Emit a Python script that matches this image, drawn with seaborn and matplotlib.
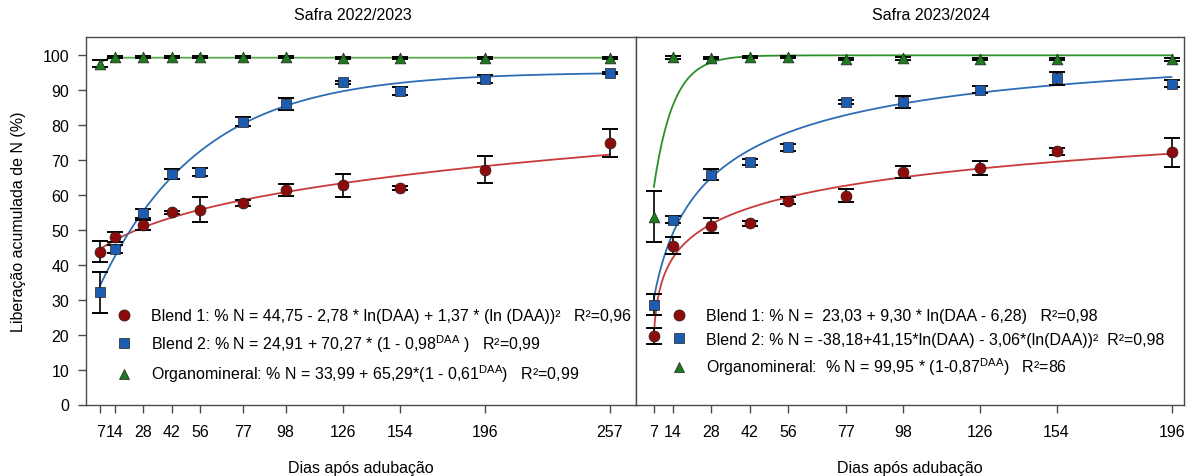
import numpy as np
import pandas as pd
import matplotlib
matplotlib.use("Agg")
import matplotlib.pyplot as plt
from matplotlib.lines import Line2D
import seaborn as sns

# ---------------- data ----------------
days_2223 = [7, 14, 28, 42, 56, 77, 98, 126, 154, 196, 257]
blend1_2223 = [43.7, 47.9, 51.4, 55.0, 55.8, 57.6, 61.4, 62.8, 62.0, 67.2, 74.8]
blend1_2223_err = [3.0, 1.4, 1.5, 0.5, 3.5, 0.9, 1.7, 3.3, 0.6, 3.8, 4.0]
blend2_2223 = [32.1, 44.5, 54.7, 66.0, 66.5, 81.0, 86.0, 92.2, 89.7, 93.2, 94.9]
blend2_2223_err = [5.9, 1.2, 1.3, 1.5, 1.1, 1.3, 1.6, 0.4, 1.2, 1.2, 0.3]
organo_2223 = [97.5, 99.4, 99.4, 99.4, 99.4, 99.4, 99.4, 99.3, 99.3, 99.3, 99.2]
organo_2223_err = [1.0, 0.3, 0.3, 0.3, 0.3, 0.3, 0.3, 0.3, 0.3, 0.3, 0.3]

days_2324 = [7, 14, 28, 42, 56, 77, 98, 126, 154, 196]
blend1_2324 = [19.6, 45.5, 51.2, 51.9, 58.3, 59.8, 66.5, 67.6, 72.5, 72.2]
blend1_2324_err = [2.2, 2.4, 2.1, 0.7, 1.0, 1.9, 1.8, 2.0, 1.0, 4.2]
blend2_2324 = [28.5, 52.9, 65.8, 69.5, 73.6, 86.7, 86.7, 90.1, 93.4, 91.8]
blend2_2324_err = [3.0, 1.0, 1.5, 0.8, 0.9, 0.6, 1.7, 1.0, 1.8, 1.0]
organo_2324 = [53.8, 99.4, 99.2, 99.5, 99.5, 98.9, 99.1, 98.9, 98.9, 98.8]
organo_2324_err = [7.2, 0.4, 0.4, 0.4, 0.4, 0.4, 0.4, 0.4, 0.4, 0.4]

# fitted model coefficients (as given in the legends)
fit_b1_2223 = [44.75, -2.78, 1.37]        # a + b*ln(x) + c*ln(x)^2
fit_b2_2223 = [24.91, 70.27, 0.98]        # a + b*(1 - c^x)
fit_or_2223 = [33.99, 65.29, 0.61]        # a + b*(1 - c^x)
fit_b1_2324 = [23.03, 9.30, 6.28]         # a + b*ln(x - c)
fit_b2_2324 = [-38.18, 41.15, -3.06]      # a + b*ln(x) + c*ln(x)^2
fit_or_2324 = [99.95, 0.87]               # a*(1 - c^x)

labels_2223 = [
    "Blend 1: % N = 44,75 - 2,78 * ln(DAA) + 1,37 * (ln (DAA))²   R²=0,96",
    r"Blend 2: % N = 24,91 + 70,27 * (1 - 0,98$^{\mathregular{DAA}}$ )   R²=0,99",
    r"Organomineral: % N = 33,99 + 65,29*(1 - 0,61$^{\mathregular{DAA}}$)   R²=0,99",
]
labels_2324 = [
    "Blend 1: % N =  23,03 + 9,30 * ln(DAA - 6,28)   R²=0,98",
    "Blend 2: % N = -38,18+41,15*ln(DAA) - 3,06*(ln(DAA))²  R²=0,98",
    r"Organomineral:  % N = 99,95 * (1-0,87$^{\mathregular{DAA}}$)   R²=86",
]
titles = ["Safra 2022/2023", "Safra 2023/2024"]
xlabel = "Dias após adubação"
ylabel = "Liberação acumulada de N (%)"

# ---------------- style ----------------
sns.set_theme(style="white")
plt.rcParams["font.family"] = ["Liberation Sans", "DejaVu Sans"]
plt.rcParams["mathtext.fontset"] = "custom"
plt.rcParams["mathtext.rm"] = "Liberation Sans"
plt.rcParams["mathtext.it"] = "Liberation Sans:italic"
plt.rcParams["mathtext.bf"] = "Liberation Sans:bold"
plt.rcParams["text.color"] = "black"
plt.rcParams["axes.labelcolor"] = "black"
plt.rcParams["xtick.labelcolor"] = "black"
plt.rcParams["ytick.labelcolor"] = "black"

RED_FILL, BLUE_FILL, GREEN_FILL = "#8e0b0b", "#1d5cb0", "#1f7a1f"
RED_LINE, BLUE_LINE = "#c93a3a", "#2f6db3"
GREEN_LINE_L, GREEN_LINE_R = "#5aab4f", "#2b8f2b"
SPINE = "#4a4a4a"
FS = 11.5

fig = plt.figure(figsize=(11.97, 4.77), dpi=100)
ax1 = fig.add_axes([86 / 1197, 71.5 / 477, 550 / 1197, 367.5 / 477])
ax2 = fig.add_axes([636 / 1197, 71.5 / 477, 548 / 1197, 367.5 / 477])


def draw_series(ax, days, vals, errs, fill, marker, size):
    ax.errorbar(days, vals, yerr=errs, fmt="none", ecolor="black",
                elinewidth=1.2, capsize=5.5, capthick=1.4, zorder=3)
    df = pd.DataFrame({"x": days, "y": vals})
    sns.scatterplot(data=df, x="x", y="y", ax=ax, color=fill, marker=marker,
                    s=size, edgecolor="#202020", linewidth=0.5, zorder=4,
                    legend=False)


def draw_curve(ax, xs, ys, color):
    df = pd.DataFrame({"x": xs, "y": ys})
    sns.lineplot(data=df, x="x", y="y", ax=ax, color=color, lw=1.3,
                 zorder=2, legend=False)


# ---- 2022/2023 ----
xl = np.linspace(days_2223[0], days_2223[-1], 400)
a, b, c = fit_b1_2223
draw_curve(ax1, xl, a + b * np.log(xl) + c * np.log(xl) ** 2, RED_LINE)
a, b, c = fit_b2_2223
draw_curve(ax1, xl, a + b * (1 - c ** xl), BLUE_LINE)
a, b, c = fit_or_2223
draw_curve(ax1, xl, a + b * (1 - c ** xl), GREEN_LINE_L)
draw_series(ax1, days_2223, blend1_2223, blend1_2223_err, RED_FILL, "o", 62)
draw_series(ax1, days_2223, blend2_2223, blend2_2223_err, BLUE_FILL, "s", 48)
draw_series(ax1, days_2223, organo_2223, organo_2223_err, GREEN_FILL, "^", 60)

# ---- 2023/2024 ----
xr = np.linspace(days_2324[0], days_2324[-1], 400)
a, b, c = fit_b1_2324
draw_curve(ax2, xr, a + b * np.log(xr - c), RED_LINE)
a, b, c = fit_b2_2324
draw_curve(ax2, xr, a + b * np.log(xr) + c * np.log(xr) ** 2, BLUE_LINE)
a, c = fit_or_2324
draw_curve(ax2, xr, a * (1 - c ** xr), GREEN_LINE_R)
draw_series(ax2, days_2324, blend1_2324, blend1_2324_err, RED_FILL, "o", 62)
draw_series(ax2, days_2324, blend2_2324, blend2_2324_err, BLUE_FILL, "s", 48)
draw_series(ax2, days_2324, organo_2324, organo_2324_err, GREEN_FILL, "^", 60)

# ---- axes formatting ----
for ax, days, xlim in [(ax1, days_2223, (0, 270)), (ax2, days_2324, (0.5, 200.5))]:
    ax.set_xlim(*xlim)
    ax.set_ylim(0, 105.2)
    ax.set_xticks(days)
    ax.set_xticklabels([str(d) for d in days])
    ax.set_xlabel(xlabel, fontsize=FS, labelpad=15)
    ax.set_ylabel("")
    for sp in ax.spines.values():
        sp.set_color(SPINE)
        sp.set_linewidth(1.0)
    ax.tick_params(axis="x", direction="out", length=6, width=1.0,
                   color=SPINE, labelsize=FS, pad=8, bottom=True)
    ax.tick_params(axis="y", direction="out", length=6, width=1.0,
                   color=SPINE, labelsize=FS, pad=6, left=True)

ax1.set_yticks(np.arange(0, 101, 10))
ax1.set_ylabel(ylabel, fontsize=FS, labelpad=12)
ax2.set_yticks([])
ax2.tick_params(axis="y", left=False, labelleft=False)

fig.text(353 / 1197, 1 - 16 / 477, titles[0], ha="center", va="center", fontsize=FS)
fig.text(931 / 1197, 1 - 16 / 477, titles[1], ha="center", va="center", fontsize=FS)

# ---- legends ----
def handles():
    return [
        Line2D([], [], ls="none", marker="o", markersize=8, markerfacecolor=RED_FILL,
               markeredgecolor="#202020", markeredgewidth=0.5),
        Line2D([], [], ls="none", marker="s", markersize=6.5, markerfacecolor=BLUE_FILL,
               markeredgecolor="#202020", markeredgewidth=0.5),
        Line2D([], [], ls="none", marker="^", markersize=7.5, markerfacecolor=GREEN_FILL,
               markeredgecolor="#202020", markeredgewidth=0.5),
    ]


for ax, labs, x0 in [(ax1, labels_2223, 0.055), (ax2, labels_2324, 0.063)]:
    ax.legend(handles(), labs, loc="upper left", bbox_to_anchor=(x0, 0.262),
              frameon=False, fontsize=FS, handlelength=1.0, handletextpad=1.2,
              borderaxespad=0, borderpad=0, labelspacing=0.55)

fig.savefig("out.png", dpi=100)
